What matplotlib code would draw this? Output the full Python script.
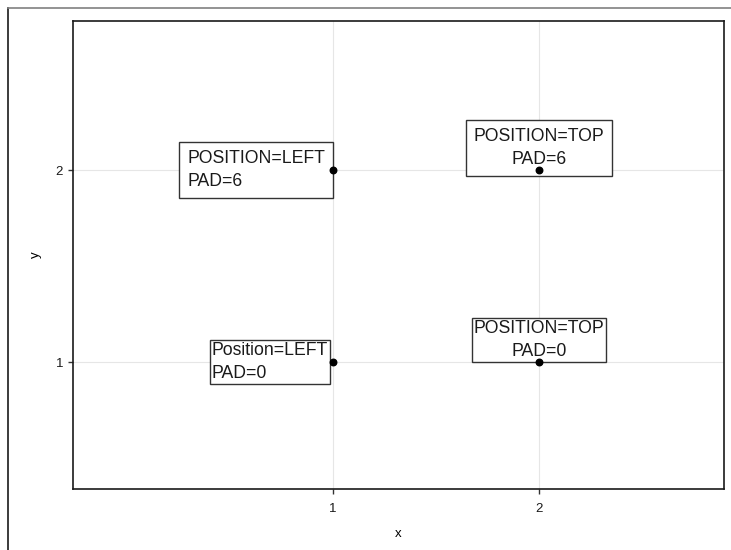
import matplotlib
matplotlib.use("Agg")
from matplotlib import pyplot as plt
from matplotlib.lines import Line2D

plt.rcParams['font.family'] = ['Liberation Sans', 'DejaVu Sans']

# --- data ---
xs = [1, 1, 2, 2]
ys = [2, 1, 2, 1]
labels = ['POSITION=LEFT\nPAD=6', 'Position=LEFT\nPAD=0',
          'POSITION=TOP\nPAD=6', 'POSITION=TOP\nPAD=0']
positions = ['left', 'left', 'top', 'top']
pads = [6, 0, 6, 0]
xticks = [1, 2]
yticks = [1, 2]

fig = plt.figure(figsize=(7.31, 5.5), dpi=100)
W, H = 731, 550
ax = fig.add_axes([73 / W, (550 - 489) / H, (724 - 73) / W, (489 - 21) / H])

ax.set_xlim(-0.262, 2.898)
ax.set_ylim(0.339, 2.776)
ax.set_xticks(xticks)
ax.set_yticks(yticks)
ax.grid(True, color='#e6e6e6', lw=0.8)
ax.set_axisbelow(True)
ax.tick_params(axis='both', length=3.6, width=1, color='#333333',
               labelsize=9.5, labelcolor='#1a1a1a')
ax.tick_params(axis='x', pad=6.5)
ax.tick_params(axis='y', pad=3.6)
for s in ax.spines.values():
    s.set_color('#1a1a1a')
    s.set_linewidth(1.2)

ax.set_xlabel('x', fontsize=9.5, labelpad=9)
ax.set_ylabel('y', fontsize=9.5, labelpad=10)

fs = 12.7
fs_px = fs * 100 / 72
for x, y, lab, pos, pad in zip(xs, ys, labels, positions, pads):
    p = pad + 2
    if pos == 'left':
        off = (-8, 0) if pad else (-5, 0)
        ha, va, ma = 'right', 'center', 'left'
    else:
        off = (0, 2)
        ha, va, ma = 'center', 'bottom', 'center'
    ax.annotate(lab, xy=(x, y), xytext=off, textcoords='offset pixels',
                ha=ha, va=va, multialignment=ma, fontsize=fs, color='#1a1a1a',
                linespacing=1.45, zorder=3,
                bbox=dict(boxstyle='square,pad=%.3f' % (p / fs_px),
                          fc='white', ec='#333333', lw=1))

ax.scatter(xs, ys, s=22, color='black', zorder=4)

# outer frame lines (left and top)
fig.add_artist(Line2D([8 / W, 8 / W], [0, 1 - 8 / H], transform=fig.transFigure,
                      color='#1a1a1a', lw=1.2))
fig.add_artist(Line2D([8 / W, 1], [1 - 8 / H, 1 - 8 / H], transform=fig.transFigure,
                      color='#808080', lw=1.2))

fig.savefig('out.png', dpi=100)
